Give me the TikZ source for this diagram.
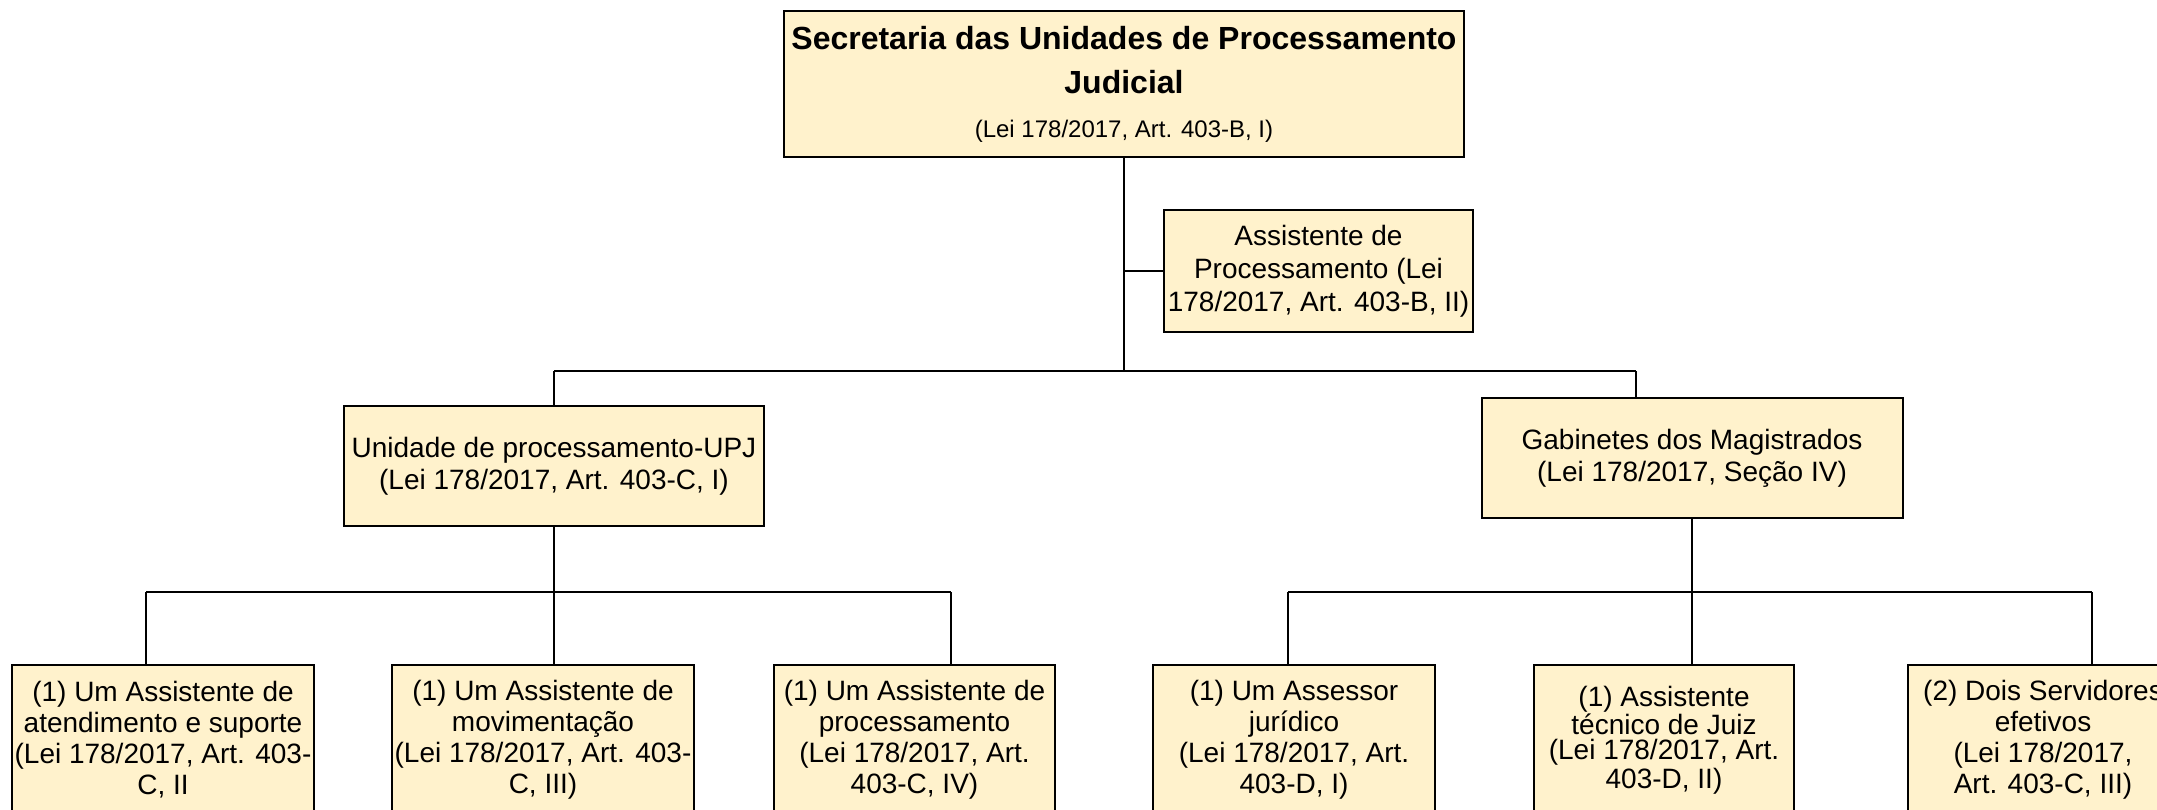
\documentclass[tikz,border=0pt]{standalone}
\usepackage{fontspec}
\setmainfont{Liberation Sans}
\usepackage{tikz}
\usetikzlibrary{positioning,calc}
\definecolor{caixa}{HTML}{FFF2CC}
\tikzset{
  cargo/.style={draw, line width=1pt, fill=caixa, align=center, inner sep=1pt, text=black,
    font=\fontsize{14}{16}\selectfont},
  folha/.style={cargo, minimum height=75pt, font=\fontsize{14}{15.5}\selectfont},
  liga/.style={line width=0.8pt},
}

\begin{document}
\begin{tikzpicture}[x=0.5pt,y=0.5pt,yscale=-1]
  \clip (0,0) rectangle (2157,809);
  \useasboundingbox (0,0) rectangle (2157,809);

  % Topo
  \node[cargo, minimum width=340pt, minimum height=73pt, font=\fontsize{16}{22}\selectfont\bfseries] (sec) at (1124,84)
    {Secretaria das Unidades de Processamento\\ Judicial\\
     \fontsize{12}{14}\mdseries\selectfont (Lei 178/2017, Art. 403-B, I)};
  \node[cargo, minimum width=154.5pt, minimum height=61pt, font=\fontsize{14}{16.5}\selectfont] (asst) at (1318.5,271)
    {Assistente de\\ Processamento (Lei\\ 178/2017, Art. 403-B, II)};

  % Segundo nivel
  \node[cargo, minimum width=210pt, minimum height=60pt] (upj) at (554,466)
    {Unidade de processamento-UPJ\\ (Lei 178/2017, Art. 403-C, I)};
  \node[cargo, minimum width=210.5pt, minimum height=60pt] (gab) at (1692,458)
    {Gabinetes dos Magistrados\\ (Lei 178/2017, Seção IV)};

  % Terceiro nivel
  \node[folha, minimum width=151pt] (b1) at (163,740)
    {(1) Um Assistente de\\ atendimento e suporte\\ (Lei 178/2017, Art. 403-\\ C, II};
  \node[folha, minimum width=151pt] (b2) at (543,740)
    {(1) Um Assistente de\\ movimentação\\ (Lei 178/2017, Art. 403-\\ C, III)};
  \node[folha, minimum width=140.5pt] (b3) at (914.5,740)
    {(1) Um Assistente de\\ processamento\\ (Lei 178/2017, Art.\\ 403-C, IV)};
  \node[folha, minimum width=141pt] (b4) at (1294,740)
    {(1) Um Assessor\\ jurídico\\ (Lei 178/2017, Art.\\ 403-D, I)};
  \node[folha, minimum width=130pt, font=\fontsize{14}{12.5}\selectfont] (b5) at (1664,740)
    {(1) Assistente\\ técnico de Juiz\\ (Lei 178/2017, Art.\\ 403-D, II)};
  \node[folha, minimum width=135pt] (b6) at (2043,740)
    {(2) Dois Servidores\\ efetivos\\ (Lei 178/2017,\\ Art. 403-C, III)};

  % Ligacoes
  \coordinate (e1) at (554,371);
  \coordinate (d1) at (1636,371);
  \coordinate (e2) at (146,592);
  \coordinate (d2) at (951,592);
  \coordinate (e3) at (1288,592);
  \coordinate (d3) at (2092,592);

  \draw[liga] (sec.south) -- (sec.south |- e1);
  \draw[liga] (sec.south |- asst.west) -- (asst.west);
  \draw[liga] (e1) -- (d1);
  \draw[liga] (e1) -- (upj.north);
  \draw[liga] (d1) -- (d1 |- gab.north);

  \draw[liga] (e2) -- (d2);
  \draw[liga] (e2) -- (e2 |- b1.north);
  \draw[liga] (upj.south) -- (upj.south |- b2.north);
  \draw[liga] (d2) -- (d2 |- b3.north);

  \draw[liga] (e3) -- (d3);
  \draw[liga] (e3) -- (e3 |- b4.north);
  \draw[liga] (gab.south) -- (gab.south |- b5.north);
  \draw[liga] (d3) -- (d3 |- b6.north);
\end{tikzpicture}
\end{document}
